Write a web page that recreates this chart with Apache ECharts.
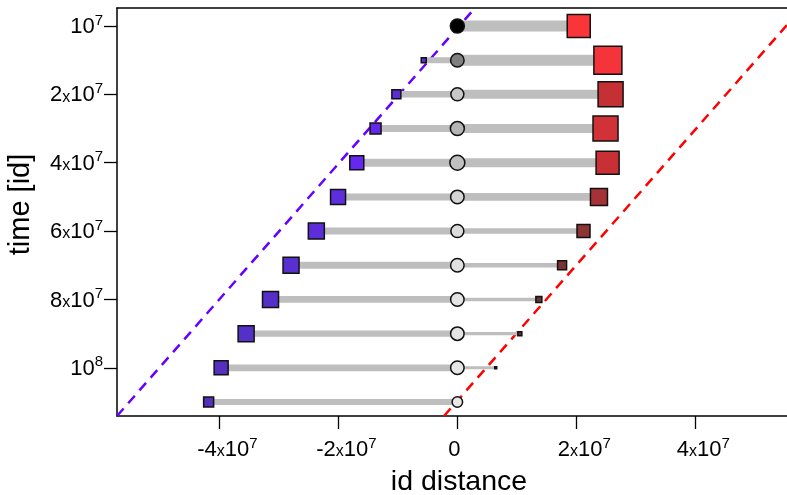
<!DOCTYPE html>
<html>
<head>
<meta charset="utf-8">
<script src="https://cdn.jsdelivr.net/npm/echarts@6/dist/echarts.min.js"></script>
<style>html,body{margin:0;padding:0;background:#fff}#c{width:787px;height:495px}</style>
</head>
<body>
<div id="c"></div>
<script>
// ---- data ----
const rowTime = [0, 1e7, 2e7, 3e7, 4e7, 5e7, 6e7, 7e7, 8e7, 9e7, 1e8, 1.1e8];
const leftPos = [null, -5.65e6, -10.25e6, -13.75e6, -16.9e6, -20.05e6, -23.7e6, -27.95e6, -31.4e6, -35.5e6, -39.7e6, -41.8e6];
const rightPos = [20.4e6, 25.3e6, 25.75e6, 24.9e6, 25.25e6, 23.8e6, 21.2e6, 17.6e6, 13.7e6, 10.5e6, 6.45e6, null];
const leftSize = [0, 5, 9, 11, 14, 15, 16, 16, 16, 16, 14, 10];
const rightSize = [23, 28, 25, 25, 23, 17, 13, 9, 6, 4, 2, 0];
const circleSize = [14, 13.5, 13, 14, 15, 13.5, 13, 13.5, 13.5, 13.5, 13.5, 10.5];
const leftWidth = [0, 6, 6.5, 7, 8, 7, 7, 7, 6.7, 6.3, 6.7, 6];
const rightWidth = [11, 11, 9, 9, 9, 7.7, 5.5, 4.5, 3.5, 3.3, 3, 0];
const leftColor = ['#5a2fd0', '#5a2ed0', '#5a2ed2', '#6428e8', '#6428f0', '#5e2edc', '#5c2dd8', '#5a2fd0', '#5530c8', '#5530c8', '#5530c0', '#5530b8'];
const rightColor = ['#fa3539', '#f5333a', '#c53035', '#d03237', '#c93035', '#a53236', '#8e3336', '#7a3335', '#6a3335', '#5a3030', '#202020', '#202020'];
const circleColor = ['#000000', '#808080', '#c8c8c8', '#b4b4b4', '#c0c0c0', '#d4d4d4', '#dcdcdc', '#e0e0e0', '#e4e4e4', '#e4e4e4', '#e6e6e6', '#e8e8e8'];
const blueLine = [[-57.2e6, 11.41e7], [2.97e6, -0.527e7]];
const redLine = [[-2.24e6, 11.41e7], [57.9e6, -0.527e7]];
const xTickValues = [-4e7, -2e7, 0, 2e7, 4e7];
const xTickMant = ['-4', '-2', '0', '2', '4'];
const xTickExp = ['7', '7', '', '7', '7'];
const yTickValues = [0, 2e7, 4e7, 6e7, 8e7, 1e8];
const yTickMant = ['', '2', '4', '6', '8', ''];
const yTickExp = ['7', '7', '7', '7', '7', '8'];

const FONT = '"Liberation Sans", Arial, sans-serif';
const rich = {
  m: {fontSize: 22, fontFamily: FONT, color: '#000', lineHeight: 24, verticalAlign: 'bottom'},
  x: {fontSize: 16, fontFamily: FONT, color: '#000', lineHeight: 24, verticalAlign: 'bottom', padding: [0, 0, 1, 0]},
  s: {fontSize: 15, fontFamily: FONT, color: '#000', lineHeight: 16, verticalAlign: 'bottom', padding: [0, 0, 10, 0]},
  sp: {width: 16, lineHeight: 24},
  sz: {width: 6, lineHeight: 24}
};
function sciLabel(mant, exp, spacer) {
  if (!exp) return '{m|' + mant + '}' + (spacer ? '{sz|}' : '');
  let s = spacer ? '{sp|}' : '';
  if (mant) s += '{m|' + mant + '}{x|x}';
  s += '{m|10}{s|' + exp + '}';
  return s;
}

const chart = echarts.init(document.getElementById('c'), null, {renderer: 'canvas'});
const xMin = -57.2e6, xMax = 55.4e6;
const axisLineStyle = {color: '#000', width: 1.5};

const leftData = [], rightData = [], circleData = [], barData = [];
rowTime.forEach((t, i) => {
  if (leftPos[i] !== null) leftData.push({value: [leftPos[i], t], symbolSize: leftSize[i], itemStyle: {color: leftColor[i]}});
  if (rightPos[i] !== null) rightData.push({value: [rightPos[i], t], symbolSize: rightSize[i], itemStyle: {color: rightColor[i]}});
  circleData.push({value: [0, t], symbolSize: circleSize[i], itemStyle: {color: circleColor[i]}});
  barData.push([leftPos[i] === null ? 0 : leftPos[i], t, rightPos[i] === null ? 0 : rightPos[i]]);
});

chart.setOption({
  animation: false,
  backgroundColor: '#fff',
  grid: {left: 117, top: 8, right: 0, bottom: 79, show: false, containLabel: false, outerBoundsMode: 'none'},
  xAxis: [{
    type: 'value', min: xMin, max: xMax, position: 'bottom',
    axisLine: {show: true, onZero: false, lineStyle: axisLineStyle},
    axisTick: {show: true, length: 13, lineStyle: {color: '#000', width: 1.3}, customValues: xTickValues},
    axisLabel: {
      customValues: xTickValues, margin: 21, rich: rich,
      formatter: function (v) { const k = xTickValues.indexOf(v); return sciLabel(xTickMant[k], xTickExp[k], true); }
    },
    splitLine: {show: false},
    name: 'id distance', nameLocation: 'middle', nameGap: 52,
    nameTextStyle: {fontSize: 28.5, fontFamily: FONT, color: '#000', padding: [0, 0, 0, 14]}
  }, {
    type: 'value', min: xMin, max: xMax, position: 'top',
    axisLine: {show: true, onZero: false, lineStyle: axisLineStyle},
    axisTick: {show: false}, axisLabel: {show: false}, splitLine: {show: false}
  }],
  yAxis: {
    type: 'value', inverse: true, min: -0.527e7, max: 11.41e7, position: 'left',
    axisLine: {show: true, onZero: false, lineStyle: axisLineStyle},
    axisTick: {show: true, length: 13, lineStyle: {color: '#000', width: 1.3}, customValues: yTickValues},
    axisLabel: {
      customValues: yTickValues, margin: 14, rich: rich,
      formatter: function (v) { const k = yTickValues.indexOf(v); return sciLabel(yTickMant[k], yTickExp[k], false); }
    },
    splitLine: {show: false},
    name: 'time [id]', nameLocation: 'middle', nameGap: 82, nameRotate: 90,
    nameTextStyle: {fontSize: 29, fontFamily: FONT, color: '#000', padding: [0, 0, 0, 15]}
  },
  series: [
    {type: 'line', data: blueLine, symbol: 'none', clip: true, silent: true,
     lineStyle: {color: '#6600ff', width: 2.5, type: [10, 7]}, z: 1},
    {type: 'line', data: redLine, symbol: 'none', clip: true, silent: true,
     lineStyle: {color: '#ff0000', width: 2.5, type: [10, 7]}, z: 1},
    {type: 'custom', data: barData, encode: {x: [0, 2], y: 1}, z: 2, silent: true,
     renderItem: function (params, api) {
       const i = params.dataIndex;
       const t = api.value(1);
       const a = api.coord([api.value(0), t]);
       const c = api.coord([0, t]);
       const b = api.coord([api.value(2), t]);
       const kids = [];
       if (leftWidth[i] > 0) kids.push({type: 'line', shape: {x1: a[0], y1: a[1], x2: c[0], y2: c[1]},
         style: {stroke: '#bebebe', lineWidth: leftWidth[i], lineCap: 'butt'}});
       if (rightWidth[i] > 0) kids.push({type: 'line', shape: {x1: c[0], y1: c[1], x2: b[0], y2: b[1]},
         style: {stroke: '#bebebe', lineWidth: rightWidth[i], lineCap: 'butt'}});
       return {type: 'group', children: kids};
     }},
    {type: 'scatter', data: circleData, symbol: 'circle', z: 3,
     itemStyle: {borderColor: '#111', borderWidth: 1.5, opacity: 1}},
    {type: 'scatter', data: leftData, symbol: 'rect', z: 4,
     itemStyle: {borderColor: '#111', borderWidth: 1.5, opacity: 1}},
    {type: 'scatter', data: rightData, symbol: 'rect', z: 4,
     itemStyle: {borderColor: '#111', borderWidth: 1.5, opacity: 1}}
  ]
});
</script>
</body>
</html>
